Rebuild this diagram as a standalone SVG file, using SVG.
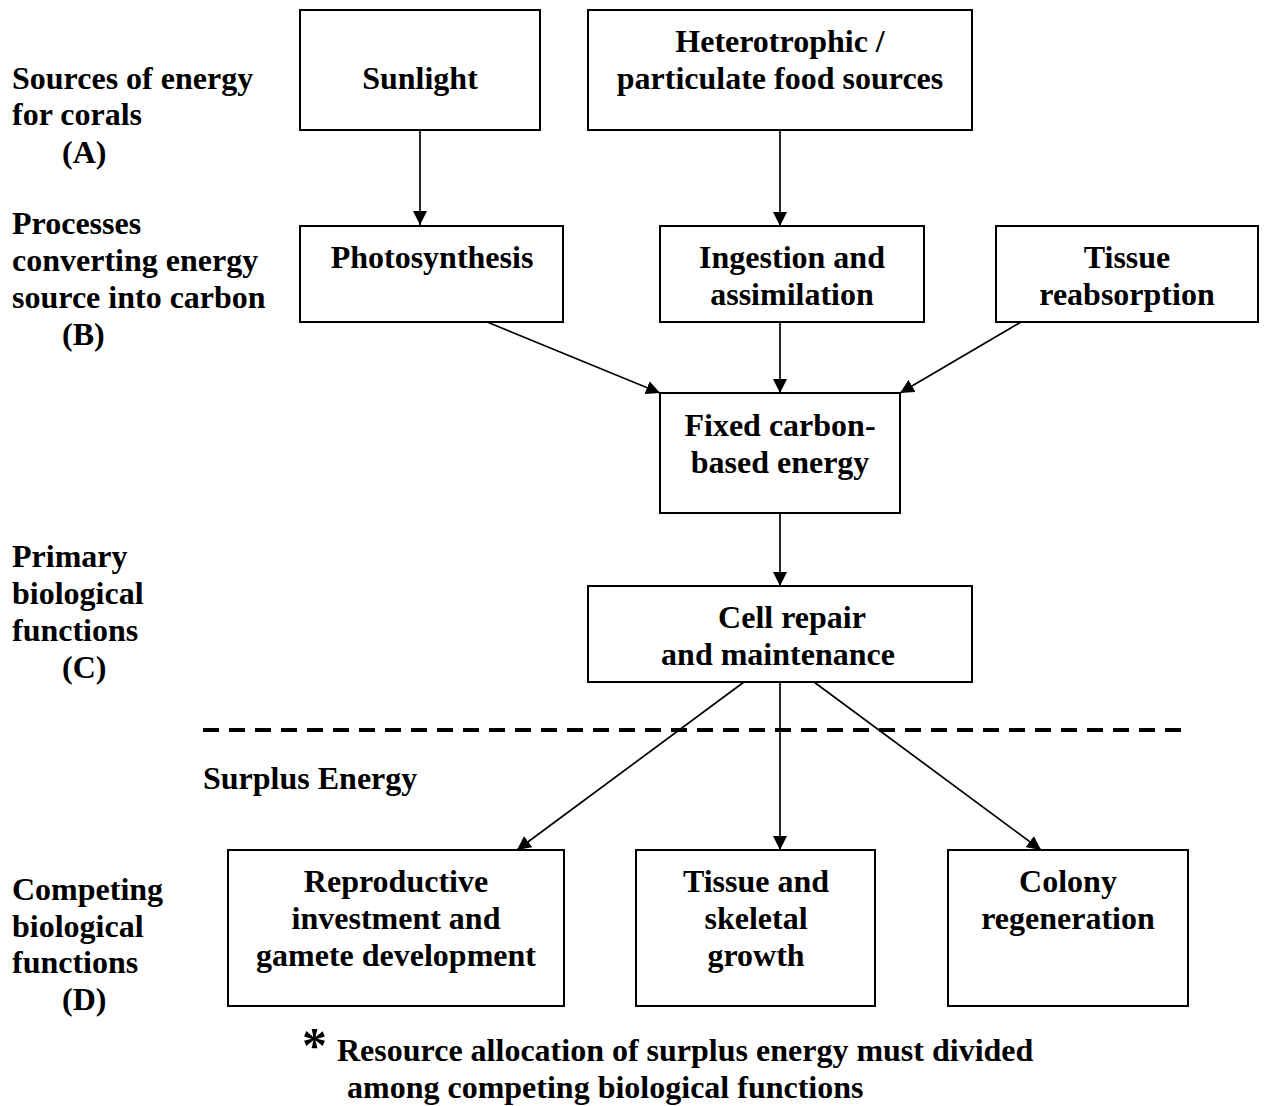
<svg xmlns="http://www.w3.org/2000/svg" width="1269" height="1106" viewBox="0 0 1269 1106">
<style>
text{font-family:"Liberation Serif","Times New Roman",serif;font-weight:bold;font-size:32px;fill:#000}
.c{text-anchor:middle}
.box{fill:#fff;stroke:#000;stroke-width:2}
.con{stroke:#000;stroke-width:1.7;fill:none}
</style>
<defs>
<marker id="ahb" viewBox="0 0 14 14" refX="14" refY="7" markerWidth="14" markerHeight="14" markerUnits="userSpaceOnUse" orient="auto"><path d="M0,0L14,7L0,14z" fill="#000"/></marker>
</defs>
<rect width="1269" height="1106" fill="#fff"/>
<g id="labels">
<text x="12" y="89">Sources of energy</text>
<text x="12" y="125">for corals</text>
<text x="62" y="163">(A)</text>
<text x="12" y="234">Processes</text>
<text x="12" y="271">converting energy</text>
<text x="12" y="308">source into carbon</text>
<text x="62" y="345">(B)</text>
<text x="12" y="567">Primary</text>
<text x="12" y="604">biological</text>
<text x="12" y="641">functions</text>
<text x="62" y="678">(C)</text>
<text x="12" y="900">Competing</text>
<text x="12" y="937">biological</text>
<text x="12" y="973">functions</text>
<text x="62" y="1010">(D)</text>
<text x="203" y="789">Surplus Energy</text>
</g>
<g id="connectors">
<line class="con" x1="420" y1="130" x2="420" y2="225" marker-end="url(#ahb)"/>
<line class="con" x1="780" y1="130" x2="780" y2="226" marker-end="url(#ahb)"/>
<line class="con" x1="487" y1="322" x2="660" y2="393" marker-end="url(#ahb)"/>
<line class="con" x1="780" y1="322" x2="780" y2="393" marker-end="url(#ahb)"/>
<line class="con" x1="1021" y1="322" x2="900" y2="393" marker-end="url(#ahb)"/>
<line class="con" x1="780" y1="513" x2="780" y2="586" marker-end="url(#ahb)"/>
<line class="con" x1="744" y1="682" x2="517" y2="850" marker-end="url(#ahb)"/>
<line class="con" x1="780" y1="682" x2="780" y2="850" marker-end="url(#ahb)"/>
<line class="con" x1="814" y1="682" x2="1041" y2="850" marker-end="url(#ahb)"/>
<line x1="203" y1="730" x2="1188" y2="730" stroke="#000" stroke-width="4" stroke-dasharray="16,10"/>
</g>
<g id="n-sunlight"><rect class="box" x="300" y="10" width="240" height="120"/><text class="c" x="420" y="89">Sunlight</text></g>
<g id="n-hetero"><rect class="box" x="588" y="10" width="384" height="120"/><text class="c" x="780" y="52">Heterotrophic /</text><text class="c" x="780" y="89">particulate food sources</text></g>
<g id="n-photo"><rect class="box" x="300" y="226" width="263" height="96"/><text class="c" x="432" y="268">Photosynthesis</text></g>
<g id="n-ingest"><rect class="box" x="660" y="226" width="264" height="96"/><text class="c" x="792" y="268">Ingestion and</text><text class="c" x="792" y="305">assimilation</text></g>
<g id="n-tissue"><rect class="box" x="996" y="226" width="262" height="96"/><text class="c" x="1127" y="268">Tissue</text><text class="c" x="1127" y="305">reabsorption</text></g>
<g id="n-fixed"><rect class="box" x="660" y="393" width="240" height="120"/><text class="c" x="780" y="436">Fixed carbon-</text><text class="c" x="780" y="473">based energy</text></g>
<g id="n-cell"><rect class="box" x="588" y="586" width="384" height="96"/><text class="c" x="792" y="628">Cell repair</text><text class="c" x="778" y="665">and maintenance</text></g>
<g id="n-repro"><rect class="box" x="228" y="850" width="336" height="156"/><text class="c" x="396" y="892">Reproductive</text><text class="c" x="396" y="929">investment and</text><text class="c" x="396" y="966">gamete development</text></g>
<g id="n-growth"><rect class="box" x="636" y="850" width="239" height="156"/><text class="c" x="756" y="892">Tissue and</text><text class="c" x="756" y="929">skeletal</text><text class="c" x="756" y="966">growth</text></g>
<g id="n-colony"><rect class="box" x="948" y="850" width="240" height="156"/><text class="c" x="1068" y="892">Colony</text><text class="c" x="1068" y="929">regeneration</text></g>
<g id="note">
<text x="302" y="1062" style="font-size:50px">*</text>
<text x="337" y="1061">Resource allocation of surplus energy must divided</text>
<text x="347" y="1098">among competing biological functions</text>
</g>
</svg>
